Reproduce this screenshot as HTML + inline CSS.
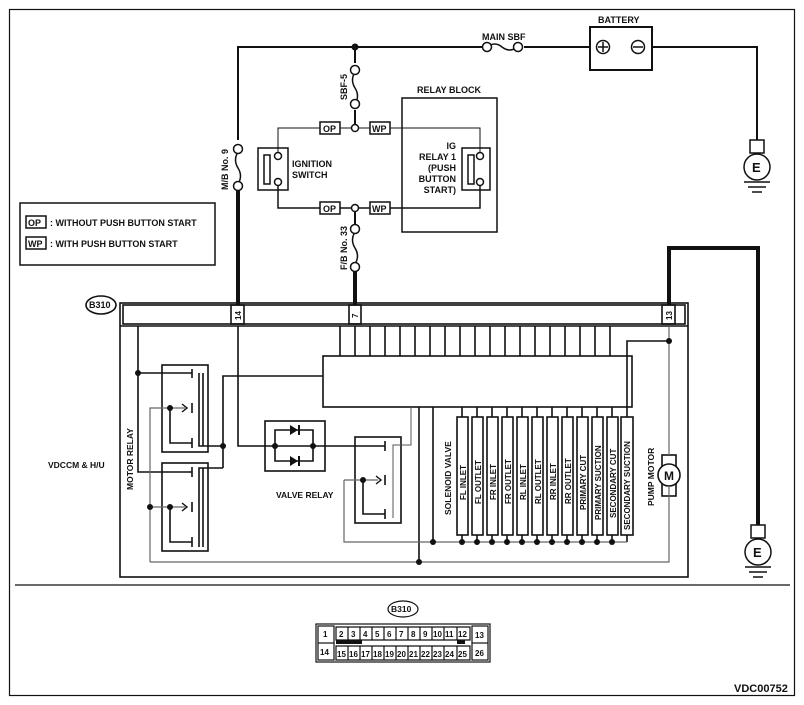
<!DOCTYPE html>
<html><head><meta charset="utf-8"><style>
html,body{margin:0;padding:0;background:#fff}
svg{display:block}
text{font-family:"Liberation Sans",Arial,sans-serif;font-weight:bold;fill:#111}
</style></head><body>
<svg width="804" height="705" viewBox="0 0 804 705" xmlns="http://www.w3.org/2000/svg">
<g fill="none" stroke="#111" stroke-width="1.2">
<rect x="9.5" y="9.5" width="785" height="686"/>
<line x1="15" y1="585" x2="790" y2="585"/>
</g>
<!-- top wiring -->
<g fill="none" stroke="#111" stroke-width="2">
<polyline points="238,140 238,47 482,47"/>
<line x1="524" y1="47" x2="590" y2="47"/>
<polyline points="652,47 757,47 757,140"/>
<line x1="355" y1="47" x2="355" y2="63"/>
<line x1="355" y1="110" x2="355" y2="124"/>
<line x1="355" y1="212" x2="355" y2="224"/>
<rect x="590" y="27" width="62" height="43"/>
</g>
<g fill="none" stroke="#111" stroke-width="1.5">
<path d="M487,47 q8,-6 15,0 q8,6 15,0"/>
<circle cx="487" cy="47" r="4.5" fill="#fff"/><circle cx="518" cy="47" r="4.5" fill="#fff"/>
<circle cx="603" cy="47" r="6.5"/><line x1="598" y1="47" x2="608" y2="47"/><line x1="603" y1="42" x2="603" y2="52"/>
<circle cx="638" cy="47" r="6.5"/><line x1="633" y1="47" x2="643" y2="47"/>
<!-- fuses vertical -->
<path d="M355,72 q-5,8 0,16 q5,8 0,16"/>
<circle cx="355" cy="70" r="4.5" fill="#fff"/><circle cx="355" cy="104" r="4.5" fill="#fff"/>
<path d="M238,152 q-5,8 0,16 q5,8 0,16"/>
<circle cx="238" cy="149" r="4.5" fill="#fff"/><circle cx="238" cy="186" r="4.5" fill="#fff"/>
<path d="M355,232 q-5,8 0,16 q5,8 0,16"/>
<circle cx="355" cy="229" r="4.5" fill="#fff"/><circle cx="355" cy="267" r="4.5" fill="#fff"/>
</g>
<circle cx="355" cy="47" r="3.5" fill="#111"/>
<g fill="none" stroke="#111" stroke-width="1">
<polyline points="278,152 278,128 320,128"/><line x1="340" y1="128" x2="370" y2="128"/>
<polyline points="390,128 480,128 480,152"/>
</g>
<g fill="none" stroke="#111" stroke-width="1.5">
<polyline points="278,186 278,208 320,208"/><line x1="340" y1="208" x2="370" y2="208"/>
<polyline points="390,208 480,208 480,186"/>
<rect x="258" y="148" width="30" height="42"/>
<rect x="264" y="155" width="6" height="29"/>
<rect x="402" y="98" width="95" height="134"/>
<rect x="462" y="148" width="28" height="42"/>
<rect x="468" y="155" width="6" height="29"/>
<circle cx="278" cy="156" r="3.5" fill="#fff"/><circle cx="278" cy="182" r="3.5" fill="#fff"/>
<circle cx="480" cy="156" r="3.5" fill="#fff"/><circle cx="480" cy="182" r="3.5" fill="#fff"/>
<circle cx="355" cy="128" r="3.5" fill="#fff"/><circle cx="355" cy="208" r="3.5" fill="#fff"/>
<rect x="320" y="122" width="20" height="12"/><rect x="370" y="122" width="20" height="12"/>
<rect x="320" y="202" width="20" height="12"/><rect x="370" y="202" width="20" height="12"/>
<rect x="20" y="203" width="195" height="62"/>
<rect x="26" y="216" width="20" height="12"/><rect x="26" y="237" width="20" height="12"/>
</g>
<g font-size="9">
<text x="323" y="132">OP</text><text x="372" y="132">WP</text>
<text x="323" y="212">OP</text><text x="372" y="212">WP</text>
<text x="28" y="226">OP</text><text x="28" y="247">WP</text>
<text x="50" y="226">: WITHOUT PUSH BUTTON START</text>
<text x="50" y="247">: WITH PUSH BUTTON START</text>
<text x="482" y="40">MAIN SBF</text>
<text x="598" y="23">BATTERY</text>
<text x="417" y="93">RELAY BLOCK</text>
<text x="292" y="167">IGNITION</text><text x="292" y="178">SWITCH</text>
<text x="456" y="149" text-anchor="end">IG</text>
<text x="456" y="160" text-anchor="end">RELAY 1</text>
<text x="456" y="171" text-anchor="end">(PUSH</text>
<text x="456" y="182" text-anchor="end">BUTTON</text>
<text x="456" y="193" text-anchor="end">START)</text>
<text transform="translate(347,100) rotate(-90)">SBF-5</text>
<text transform="translate(228,190) rotate(-90)">M/B No. 9</text>
<text transform="translate(347,270) rotate(-90)">F/B No. 33</text>
</g>
<!-- thick wires -->
<g stroke="#111" stroke-width="4" fill="none">
<line x1="238" y1="190" x2="238" y2="305"/>
<line x1="355" y1="271" x2="355" y2="305"/>
<polyline points="669,305 669,248 758,248 758,525"/>
</g>
<!-- grounds -->
<g fill="none" stroke="#111" stroke-width="1.5">
<rect x="750" y="140" width="14" height="13"/><circle cx="757" cy="167" r="13"/>
<line x1="744" y1="182" x2="770" y2="182"/><line x1="748" y1="187" x2="766" y2="187"/><line x1="752" y1="192" x2="762" y2="192"/>
<rect x="751" y="525" width="14" height="13"/><circle cx="758" cy="552" r="13"/>
<line x1="745" y1="567" x2="771" y2="567"/><line x1="749" y1="572" x2="767" y2="572"/><line x1="753" y1="577" x2="763" y2="577"/>
</g>
<text x="752" y="172" font-size="13">E</text>
<text x="753" y="557" font-size="13">E</text>
<!-- connector strip -->
<g fill="none" stroke="#111" stroke-width="1.6">
<rect x="120" y="303" width="568" height="274"/>
<rect x="123" y="305" width="562" height="19"/>
<line x1="120" y1="326" x2="688" y2="326"/>
<rect x="231" y="305" width="13" height="19"/>
<rect x="349" y="305" width="12" height="19"/>
<rect x="662" y="305" width="13" height="19"/>
<ellipse cx="101" cy="305" rx="15" ry="9"/>
</g>
<g font-size="8">
<text transform="translate(241,320) rotate(-90)">14</text>
<text transform="translate(358,318) rotate(-90)">7</text>
<text transform="translate(672,320) rotate(-90)">13</text>
<text x="89" y="308" font-size="9">B310</text>
</g>
<!-- ECU -->
<g fill="none" stroke="#111" stroke-width="1.6">
<rect x="323" y="356" width="309" height="51"/>
<path d="M340,326V356M355,326V356M370,326V356M385,326V356M400,326V356M415,326V356M430,326V356M445,326V356M460,326V356M475,326V356M490,326V356M505,326V356M520,326V356M535,326V356M550,326V356M565,326V356M580,326V356M595,326V356M610,326V356"/>
<!-- solenoids -->
<path d="M462,407V417M477,407V417M492,407V417M507,407V417M522,407V417M537,407V417M552,407V417M567,407V417M582,407V417M597,407V417M612,407V417"/>
<polyline points="627,417 627,341 669,341"/>
<g>
<rect x="457" y="417" width="11" height="118"/><rect x="472" y="417" width="11" height="118"/>
<rect x="487" y="417" width="11" height="118"/><rect x="502" y="417" width="11" height="118"/>
<rect x="517" y="417" width="11" height="118"/><rect x="532" y="417" width="11" height="118"/>
<rect x="547" y="417" width="11" height="118"/><rect x="562" y="417" width="11" height="118"/>
<rect x="577" y="417" width="11" height="118"/><rect x="592" y="417" width="11" height="118"/>
<rect x="607" y="417" width="11" height="118"/><rect x="621" y="417" width="12" height="118"/>
</g>
<path d="M462,535V542M477,535V542M492,535V542M507,535V542M522,535V542M537,535V542M552,535V542M567,535V542M582,535V542M597,535V542M612,535V542M627,535V542"/>
<line x1="433" y1="407" x2="433" y2="542"/>
<line x1="419" y1="407" x2="419" y2="562"/>
<!-- motor relays -->
<rect x="162" y="365" width="46" height="87"/>
<rect x="162" y="463" width="46" height="88"/>
<polyline points="138,326 138,472 192,472"/>
<line x1="138" y1="373" x2="192" y2="373"/>
<line x1="192" y1="369" x2="192" y2="378"/><line x1="192" y1="403" x2="192" y2="413"/><line x1="192" y1="438" x2="192" y2="448"/>
<line x1="192" y1="467" x2="192" y2="477"/><line x1="192" y1="502" x2="192" y2="512"/><line x1="192" y1="537" x2="192" y2="547"/>
<polyline points="170,408 170,443 192,443"/>
<polyline points="170,507 170,542 192,542"/>
<polyline points="199,373 199,446 223,446"/><polyline points="203,373 203,446"/>
<polyline points="199,547 199,468 223,468"/><line x1="203" y1="547" x2="203" y2="468"/>
<polyline points="323,376 223,376 223,468"/>
<!-- diode -->
<rect x="265" y="421" width="60" height="50"/>
<polyline points="238,326 238,446 313,446"/>
<polyline points="275,446 275,430 313,430 313,461 275,461 275,446"/>
<line x1="313" y1="446" x2="385" y2="446"/>
<!-- valve relay -->
<rect x="355" y="437" width="46" height="86"/>
<line x1="385" y1="441" x2="385" y2="451"/><line x1="385" y1="475" x2="385" y2="485"/><line x1="385" y1="509" x2="385" y2="519"/>
<polyline points="363,480 363,514 385,514"/>
<polyline points="393,518 393,445 411,445 411,407" stroke="#555" stroke-width="1"/>
<!-- motor -->
<rect x="662" y="455" width="14" height="41"/>
<circle cx="669" cy="475" r="11" fill="#fff"/>
</g>
<!-- grey lines -->
<g fill="none" stroke="#666" stroke-width="1.2">
<polyline points="150,562 150,408 185,408"/>
<line x1="150" y1="507" x2="185" y2="507"/>
<polyline points="150,562 669,562 669,486"/>
<line x1="669" y1="326" x2="669" y2="455"/>
<polyline points="344,480 344,542 627,542"/>
<line x1="344" y1="480" x2="378" y2="480"/>
</g>
<g fill="none" stroke="#111" stroke-width="1.4">
<path d="M182,404 l5,4 l-5,4"/><path d="M182,503 l5,4 l-5,4"/><path d="M376,476 l5,4 l-5,4"/>
</g>
<g fill="#111">
<path d="M290,425 l8,5 l-8,5z"/><rect x="298" y="425" width="2" height="10"/>
<path d="M290,456 l8,5 l-8,5z"/><rect x="298" y="456" width="2" height="10"/>
<circle cx="138" cy="373" r="3"/><circle cx="170" cy="408" r="3"/><circle cx="170" cy="507" r="3"/><circle cx="150" cy="507" r="3"/>
<circle cx="223" cy="446" r="3"/><circle cx="275" cy="446" r="3"/><circle cx="313" cy="446" r="3"/><circle cx="363" cy="480" r="3"/>
<circle cx="419" cy="562" r="3"/><circle cx="433" cy="542" r="3"/><circle cx="669" cy="341" r="3"/>
<circle cx="462" cy="542" r="3"/><circle cx="477" cy="542" r="3"/><circle cx="492" cy="542" r="3"/><circle cx="507" cy="542" r="3"/>
<circle cx="522" cy="542" r="3"/><circle cx="537" cy="542" r="3"/><circle cx="552" cy="542" r="3"/><circle cx="567" cy="542" r="3"/>
<circle cx="582" cy="542" r="3"/><circle cx="597" cy="542" r="3"/><circle cx="612" cy="542" r="3"/>
</g>
<text x="664" y="480" font-size="12">M</text>
<g font-size="8.5">
<text x="48" y="468">VDCCM &amp; H/U</text>
<text x="276" y="498">VALVE RELAY</text>
<text transform="translate(133,490) rotate(-90)">MOTOR RELAY</text>
<text transform="translate(451,515) rotate(-90)">SOLENOID VALVE</text>
<text transform="translate(654,506) rotate(-90)">PUMP MOTOR</text>
<g font-size="8">
<text transform="translate(466,500) rotate(-90)">FL INLET</text>
<text transform="translate(481,504) rotate(-90)">FL OUTLET</text>
<text transform="translate(496,500) rotate(-90)">FR INLET</text>
<text transform="translate(511,504) rotate(-90)">FR OUTLET</text>
<text transform="translate(526,500) rotate(-90)">RL INLET</text>
<text transform="translate(541,504) rotate(-90)">RL OUTLET</text>
<text transform="translate(556,500) rotate(-90)">RR INLET</text>
<text transform="translate(571,504) rotate(-90)">RR OUTLET</text>
<text transform="translate(586,510) rotate(-90)">PRIMARY CUT</text>
<text transform="translate(601,520) rotate(-90)">PRIMARY SUCTION</text>
<text transform="translate(616,518) rotate(-90)">SECONDARY CUT</text>
<text transform="translate(630,530) rotate(-90)">SECONDARY SUCTION</text>
</g>
</g>
<!-- bottom connector -->
<g fill="none" stroke="#111" stroke-width="1.2">
<ellipse cx="403" cy="609" rx="15" ry="8"/>
<rect x="316" y="624" width="174" height="38"/>
<rect x="318" y="626" width="16" height="34"/><line x1="318" y1="643" x2="334" y2="643"/>
<rect x="472" y="626" width="16" height="34"/><line x1="472" y1="643" x2="488" y2="643"/>
<path d="M336,627H470V640H336ZM336,646H470V660H336Z"/>
<path d="M348,627V640M360,627V640M372,627V640M384,627V640M396,627V640M408,627V640M420,627V640M432,627V640M444,627V640M457,627V640"/>
<path d="M348,646V660M360,646V660M372,646V660M384,646V660M396,646V660M408,646V660M420,646V660M432,646V660M444,646V660M457,646V660"/>
</g>
<rect x="336" y="640" width="26" height="4" fill="#111"/>
<rect x="457" y="640" width="8" height="4" fill="#111"/>
<g font-size="8" font-weight="normal">
<text x="391" y="612" font-size="8.5" font-weight="bold">B310</text>
<text x="323" y="637">1</text><text x="320" y="655">14</text>
<text x="475" y="638">13</text><text x="475" y="656">26</text>
<text x="339" y="637">2</text><text x="351" y="637">3</text><text x="363" y="637">4</text><text x="375" y="637">5</text><text x="387" y="637">6</text><text x="399" y="637">7</text><text x="411" y="637">8</text><text x="423" y="637">9</text><text x="433" y="637">10</text><text x="445" y="637">11</text><text x="458" y="637">12</text>
<text x="337" y="657">15</text><text x="349" y="657">16</text><text x="361" y="657">17</text><text x="373" y="657">18</text><text x="385" y="657">19</text><text x="397" y="657">20</text><text x="409" y="657">21</text><text x="421" y="657">22</text><text x="433" y="657">23</text><text x="445" y="657">24</text><text x="458" y="657">25</text>
</g>
<text x="734" y="692" font-size="11" font-weight="normal">VDC00752</text>
</svg>
</body></html>
